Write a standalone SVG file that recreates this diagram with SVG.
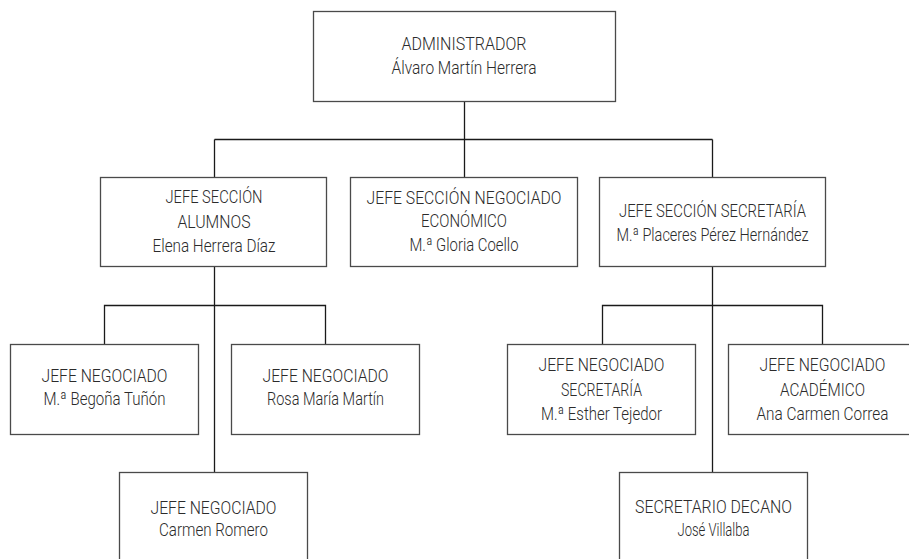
<svg xmlns="http://www.w3.org/2000/svg" width="909" height="559" viewBox="0 0 909 559">
<style>
.box{fill:#fff;stroke:#4a4a4a;stroke-width:1.3}
.con{fill:none;stroke:#1a1a1a;stroke-width:1.3}
text{font-family:Roboto,"Liberation Sans",Arial,sans-serif;font-weight:300;font-size:18px;fill:#2b2b2b;text-anchor:middle}
</style>
<rect width="909" height="559" fill="#fff"/>
<g id="connectors">
<path class="con" d="M464.5 101.5V177.5"/>
<path class="con" d="M214.5 139.5H712.5"/>
<path class="con" d="M214.5 139.5V177.5M712.5 139.5V177.5"/>
<path class="con" d="M214.5 266.5V472.5M712.5 266.5V472.5"/>
<path class="con" d="M104.5 344.5V305.5H325.5V344.5"/>
<path class="con" d="M602.5 344.5V305.5H822.5V344.5"/>
</g>
<g id="administrador">
<rect class="box" x="313.5" y="11.5" width="302" height="90"/>
<text x="464" y="49.5" textLength="125" lengthAdjust="spacingAndGlyphs">ADMINISTRADOR</text>
<text x="464" y="74" textLength="145" lengthAdjust="spacingAndGlyphs">Álvaro Martín Herrera</text>
</g>
<g id="jefe-seccion-alumnos">
<rect class="box" x="100.5" y="177.5" width="226" height="89"/>
<text x="214" y="203" textLength="97" lengthAdjust="spacingAndGlyphs">JEFE SECCIÓN</text>
<text x="214" y="227.5" textLength="73" lengthAdjust="spacingAndGlyphs">ALUMNOS</text>
<text x="214" y="252" textLength="123" lengthAdjust="spacingAndGlyphs">Elena Herrera Díaz</text>
</g>
<g id="jefe-seccion-economico">
<rect class="box" x="350.5" y="177.5" width="227" height="89"/>
<text x="464" y="203.5" textLength="195" lengthAdjust="spacingAndGlyphs">JEFE SECCIÓN NEGOCIADO</text>
<text x="464" y="227" textLength="86" lengthAdjust="spacingAndGlyphs">ECONÓMICO</text>
<text x="464" y="251" textLength="109" lengthAdjust="spacingAndGlyphs">M.ª Gloria Coello</text>
</g>
<g id="jefe-seccion-secretaria">
<rect class="box" x="599.5" y="177.5" width="226" height="89"/>
<text x="712.5" y="216.5" textLength="187" lengthAdjust="spacingAndGlyphs">JEFE SECCIÓN SECRETARÍA</text>
<text x="712.5" y="240.5" textLength="192" lengthAdjust="spacingAndGlyphs">M.ª Placeres Pérez Hernández</text>
</g>
<g id="jefe-negociado-begona">
<rect class="box" x="10.5" y="344.5" width="188" height="90"/>
<text x="104.5" y="382" textLength="126" lengthAdjust="spacingAndGlyphs">JEFE NEGOCIADO</text>
<text x="104.5" y="405" textLength="122" lengthAdjust="spacingAndGlyphs">M.ª Begoña Tuñón</text>
</g>
<g id="jefe-negociado-rosa">
<rect class="box" x="231.5" y="344.5" width="188" height="90"/>
<text x="325.5" y="382" textLength="126" lengthAdjust="spacingAndGlyphs">JEFE NEGOCIADO</text>
<text x="325.5" y="405" textLength="117" lengthAdjust="spacingAndGlyphs">Rosa María Martín</text>
</g>
<g id="jefe-negociado-carmen">
<rect class="box" x="119.5" y="472.5" width="188" height="100"/>
<text x="213.5" y="514" textLength="126" lengthAdjust="spacingAndGlyphs">JEFE NEGOCIADO</text>
<text x="213.5" y="536" textLength="109" lengthAdjust="spacingAndGlyphs">Carmen Romero</text>
</g>
<g id="jefe-negociado-secretaria">
<rect class="box" x="507.5" y="344.5" width="188" height="90"/>
<text x="601.5" y="371" textLength="126" lengthAdjust="spacingAndGlyphs">JEFE NEGOCIADO</text>
<text x="601.5" y="395.5" textLength="81" lengthAdjust="spacingAndGlyphs">SECRETARÍA</text>
<text x="601.5" y="420" textLength="121" lengthAdjust="spacingAndGlyphs">M.ª Esther Tejedor</text>
</g>
<g id="jefe-negociado-academico">
<rect class="box" x="728.5" y="344.5" width="188" height="90"/>
<text x="822.5" y="371" textLength="126" lengthAdjust="spacingAndGlyphs">JEFE NEGOCIADO</text>
<text x="822.5" y="395.5" textLength="85" lengthAdjust="spacingAndGlyphs">ACADÉMICO</text>
<text x="822.5" y="420" textLength="132" lengthAdjust="spacingAndGlyphs">Ana Carmen Correa</text>
</g>
<g id="secretario-decano">
<rect class="box" x="619.5" y="472.5" width="188" height="100"/>
<text x="713.5" y="513" textLength="157" lengthAdjust="spacingAndGlyphs">SECRETARIO DECANO</text>
<text x="713.5" y="536" textLength="72" lengthAdjust="spacingAndGlyphs">José Villalba</text>
</g>
</svg>
